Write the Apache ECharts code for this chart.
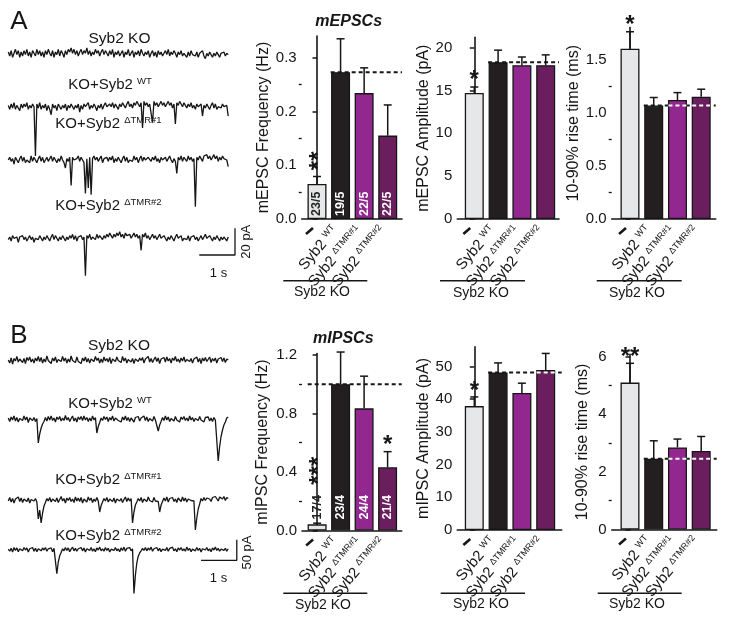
<!DOCTYPE html>
<html><head><meta charset="utf-8">
<script src="https://cdn.jsdelivr.net/npm/echarts@6/dist/echarts.min.js"></script>
<style>html,body{margin:0;padding:0;background:#fff}#c{width:729px;height:620px}</style>
</head><body><div id="c"></div>
<script>
// ================= DATA =================
const groupNames = ['Syb2 KO', 'Syb2 WT', 'Syb2 ΔTMR#1', 'Syb2 ΔTMR#2'];
const xLabelMain = ['—', 'Syb2', 'Syb2', 'Syb2'];
const xLabelSup = ['', 'WT', 'ΔTMR#1', 'ΔTMR#2'];
const bracketLabel = 'Syb2 KO';

// mEPSCs (A)
const mepscFreq = [0.065, 0.273, 0.234, 0.155];
const mepscFreqErr = [0.014, 0.062, 0.047, 0.057];
const mepscFreqRef = 0.273;
const mepscAmp = [14.7, 18.3, 17.95, 17.95];
const mepscAmpErr = [0.7, 1.4, 0.95, 1.2];
const mepscAmpRef = 18.3;
const mepscRise = [1.60, 1.067, 1.118, 1.15];
const mepscRiseErr = [0.16, 0.075, 0.07, 0.07];
const mepscRiseRef = 1.067;
const mepscN = ['23/5', '19/5', '22/5', '22/5'];
const mepscFreqStars = ['**', '', '', ''];
const mepscAmpStars = ['*', '', '', ''];
const mepscRiseStars = ['*', '', '', ''];

// mIPSCs (B)
const mipscFreq = [0.042, 1.0, 0.835, 0.432];
const mipscFreqErr = [0.008, 0.22, 0.22, 0.107];
const mipscFreqRef = 1.0;
const mipscAmp = [37.9, 48.2, 41.9, 48.95];
const mipscAmpErr = [2.8, 2.9, 3.0, 5.05];
const mipscAmpRef = 48.2;
const mipscRise = [5.10, 2.46, 2.85, 2.73];
const mipscRiseErr = [0.67, 0.62, 0.29, 0.50];
const mipscRiseRef = 2.46;
const mipscN = ['17/4', '23/4', '24/4', '21/4'];
const mipscFreqStars = ['***', '', '', '*'];
const mipscAmpStars = ['*', '', '', ''];
const mipscRiseStars = ['**', '', '', ''];

// axis ticks
const mepscFreqTicks = [0, 0.1, 0.2, 0.3], mepscFreqMinor = [0.05, 0.15, 0.25];
const mepscAmpTicks = [0, 5, 10, 15, 20], mepscAmpMinor = [];
const mepscRiseTicks = [0, 0.5, 1.0, 1.5], mepscRiseMinor = [0.25, 0.75, 1.25];
const mipscFreqTicks = [0, 0.4, 0.8, 1.2], mipscFreqMinor = [0.2, 0.6, 1.0];
const mipscAmpTicks = [0, 10, 20, 30, 40, 50], mipscAmpMinor = [];
const mipscRiseTicks = [0, 2, 4, 6], mipscRiseMinor = [1, 3, 5];

// example traces (pA), sampled every 0.04 s
const sampleDt = 0.04;
const traceLabelsMain = ['Syb2 KO', 'KO+Syb2', 'KO+Syb2', 'KO+Syb2'];
const traceLabelsSup = ['', 'WT', 'ΔTMR#1', 'ΔTMR#2'];
const trA1 = [1,-2,2,-3,0,3,-1,2,-3,1, -2,2,-1,3,-2,1,-3,2,0,-2, 3,-1,2,-2,1,-3,2,-1,3,0, -2,2,-3,1,-1,3,-2,2,0,-3,
  2,-1,3,1,4,0,3,-1,2,-2, 1,3,-1,2,0,4,-1,2,-2,1, -1,3,0,2,-2,1,3,-1,2,0, -2,2,-1,3,-3,1,-1,2,-2,0,
  2,-3,1,-1,3,-2,0,2,-3,1, -1,2,-2,3,0,-2,1,-1,2,-3, 0,2,-2,1,-3,2,-1,1,-2,0, 2,-1,3,-2,1,-1,2,0,-3,1,
  -1,2,-2,0,1,-3,1,-2,2,-1, 0,-2,1,-3,0,-1,2,-2,-4,0, -2,1,-1,-3,0,-2,1,-1,-3,0, -1,1,-2,0,-1];
const trA2 = [1,-2,2,-1,3,-2,1,0,-3,2, -1,2,0,3,-2,1,-1,2,0,-37, 2,-1,3,-2,1,-1,2,-3,1,-2, -6,2,-1,1,-3,2,0,-2,1,-1,
  2,-3,1,-1,2,0,-2,1,-1,2, -4,1,-2,2,0,-1,3,-2,1,-1, 2,0,-3,1,-1,2,-2,1,3,0, -1,2,0,3,-1,2,1,-2,2,0,
  3,1,-1,2,4,0,2,-1,3,1, 4,2,0,3,-16,4,1,3,0,2, 3,-12,4,1,3,0,2,4,1,3, 0,2,4,1,3,-1,2,-13,3,1,
  4,2,0,3,1,-1,2,0,3,-1, 1,-2,2,0,-1,2,-7,1,-1,2, 0,-2,1,3,-1,2,-2,0,1,-1, 2,0,-1,1,-7];
const trA3 = [0,2,-1,1,-3,2,0,-2,1,3, -1,2,-2,0,1,-2,3,-1,2,0, -2,1,3,-1,2,-2,0,2,-1,1, 3,-1,2,0,-2,1,-1,3,0,-2,
  -6,1,-1,2,-19,2,0,-1,1,3, -1,2,0,-2,-25,1,-21,2,-26,1, 3,0,2,-1,1,3,-2,1,0,2, -1,2,0,3,-2,1,-1,2,0,-2,
  1,3,-1,2,-2,0,1,-1,3,0, 2,-2,1,3,-1,2,0,-1,2,1, -1,2,0,3,-1,1,-2,2,0,-1, 2,-1,1,3,0,-2,1,-1,-10,2,
  0,3,-1,2,1,-1,3,0,2,-1, 1,-35,2,0,3,1,-1,3,2,4, 1,3,0,2,4,1,3,-1,2,0, 3,1,2,0,-5];
const trA4 = [-1,1,-2,2,0,-1,1,-3,1,0, 2,-1,1,-2,0,2,-1,1,-3,0, 1,-1,2,0,-2,1,-1,2,0,-2, 1,3,-1,2,0,-2,1,-1,2,0,
  -2,1,-1,2,0,3,-1,2,-2,1, 0,2,-1,1,-28,2,0,3,-1,1, 2,-1,3,0,2,1,-1,2,0,3, 1,4,2,0,3,1,4,2,5,1,
  3,0,4,2,1,3,0,2,4,1, 3,0,2,-9,3,1,4,0,2,-1, 1,3,0,2,-1,1,3,0,-1,2, 0,-2,1,-1,2,0,-2,1,3,0,
  -1,2,-2,0,1,-1,2,-2,1,0, 2,-1,1,-2,0,2,-1,1,3,0, -1,2,0,-2,1,-1,2,0,-2,1, -1,1,0,-2,1];
const trB1 = [0,-6,4,-8,3,-2,7,-4,2,6, -5,3,-7,5,-1,6,-4,2,-6,4, -2,7,-3,5,-6,2,-4,8,-1,3, -7,4,-2,6,-5,1,5,-3,7,-2,
  4,-6,2,-4,8,-1,3,-5,6,-3, 1,-7,4,-2,6,-4,3,-6,2,5, -3,7,-1,4,-6,2,-5,6,-2,3, -4,5,-7,2,4,-3,6,-1,3,-5,
  7,-2,4,-6,1,5,-4,3,-7,2, 6,-3,4,-1,5,-6,2,-2,7,-4, 3,-5,1,6,-3,4,-7,2,-1,5, -4,6,-2,3,-6,4,-1,7,-3,2,
  -5,4,-2,6,-4,1,5,-3,3,-6, 2,-1,6,-4,3,-7,4,-2,5,-3, 1,6,-5,3,-2,4,-6,2,-1,5, -3,4,-5,2,0];
const trB2 = [2,-5,4,-2,6,-4,3,-6,1,5, -3,6,-2,4,-7,2,5,-3,3,-5, 1,-48,-30,-18,-10,-5,3,-4,5,-2, 6,-3,2,-6,4,-1,5,-4,2,-3,
  7,-2,3,-5,1,6,-4,2,-6,4, -1,5,-3,6,-2,3,-5,2,-4,6, -2,3,-28,-15,-7,2,-3,5,-1,4, -5,3,-2,6,-4,2,5,-3,1,-6,
  4,-2,6,-3,3,-5,2,4,-6,3, -1,5,-4,2,-2,6,-3,4,-5,1, 3,-4,5,-2,2,-24,-12,-5,3,-3, 6,-2,4,-5,1,3,-4,5,-2,2,
  -6,4,-1,5,-3,2,-4,6,-2,3, -5,1,4,-3,5,-2,2,-6,3,-1, 4,-4,2,-5,3,-2,-6,-84,-55,-35, -22,-12,-6,2,4];
const trB3 = [-2,5,-4,3,-6,2,-1,6,-3,4, -5,2,6,-3,4,-6,1,5,-2,3, -4,-38,-20,-46,-26,-12,-5,3,-2,5, -4,2,6,-3,4,-5,1,7,-2,3,
  -6,4,-1,5,-3,2,-5,6,-2,4, -3,5,-6,2,3,-4,6,-1,4,-5, 2,-3,5,-2,-24,-11,-4,3,-2,5, -4,2,6,-3,4,-6,2,5,-2,3,
  -5,1,6,-3,4,-2,3,-46,-24,-10, -4,3,-2,5,-5,2,4,-3,6,-1, 3,-4,5,-2,2,-3,-24,-10,-3,4, -2,6,-4,3,-1,5,-3,2,-5,4,
  1,-3,6,-2,4,-4,2,5,-1,3, -2,-60,-36,-18,-8,3,-2,5,-1,4, 6,2,-3,5,1,7,3,-2,6,9, 2,7,-1,5,3];
const trB4 = [1,-4,3,-6,5,-2,4,-5,2,6, -3,5,-1,4,-6,2,-2,5,-4,3, -5,2,6,-3,4,-1,5,-4,2,-2, 4,-5,3,-1,-58,-30,-15,-7,2,-3,
  5,-2,4,-5,1,6,-3,3,-4,2, -1,5,-3,4,-6,2,3,-2,5,-4, 2,-5,4,-1,6,-3,2,-4,5,-2, 3,-6,1,4,-2,5,-3,2,-5,4,
  -2,6,-4,3,-1,5,-3,2,-106,-62, -32,-16,-8,-3,3,-2,5,-3,4,-1, 6,-4,2,-2,5,-3,3,-5,1,4, -2,5,-4,3,-1,6,-3,2,-5,4,
  -1,5,-3,2,-4,6,-2,3,-5,1, 4,-3,5,-2,3,-6,2,4,-1,5, -3,2,-5,4,-1,6,-2,3,-4,1, 5,-2,3,-4,2];
const scaleBarA = {pA: 20, s: 1, label: '20 pA', tLabel: '1 s'};
const scaleBarB = {pA: 50, s: 1, label: '50 pA', tLabel: '1 s'};

// ================= STYLE / LAYOUT =================
const FONT = '"Liberation Sans", Arial, Helvetica, sans-serif';
const INK = '#161616';
const barColors = ['#e6e7e8', '#231f20', '#92278f', '#6b1e5e'];
const countColors = ['#222222', '#ffffff', '#ffffff', '#ffffff'];

const panels = [
  {val: mepscFreq, err: mepscFreqErr, ref: mepscFreqRef, n: mepscN, stars: mepscFreqStars, ticks: mepscFreqTicks, minor: mepscFreqMinor, dec: 1,
   name: 'mEPSC Frequency (Hz)', grid: {left: 301.7, top: 36.1, width: 100.3, height: 182.9}, xMin: -0.649, xMax: 3.606, yMax: 0.34,
   nameGap: 30, refStart: 0.58, nDist: 3, starLift: [15.7, 0, 0, 0], starRot: [90, 0, 0, 0], bracket: {x1: 283.3, x2: 367.3, y: 280.7, tx: 322, ty: 292}},
  {val: mepscAmp, err: mepscAmpErr, ref: mepscAmpRef, n: null, stars: mepscAmpStars, ticks: mepscAmpTicks, minor: mepscAmpMinor, dec: 0,
   name: 'mEPSC Amplitude (pA)', grid: {left: 457.3, top: 37.3, width: 101.7, height: 181.7}, xMin: -0.714, xMax: 3.559, yMax: 21.2,
   nameGap: 24, refStart: 0.58, nDist: 3, starLift: [9.5, 0, 0, 0], starRot: [0, 0, 0, 0], bracket: {x1: 440, x2: 525, y: 280.7, tx: 481, ty: 292.7}},
  {val: mepscRise, err: mepscRiseErr, ref: mepscRiseRef, n: null, stars: mepscRiseStars, ticks: mepscRiseTicks, minor: mepscRiseMinor, dec: 1,
   name: '10-90% rise time (ms)', grid: {left: 611.7, top: 27.5, width: 104, height: 191.5}, xMin: -0.771, xMax: 3.611, yMax: 1.8,
   nameGap: 30, refStart: 0.58, nDist: 3, starLift: [8.7, 0, 0, 0], starRot: [0, 0, 0, 0], bracket: {x1: 596.7, x2: 681.7, y: 280.7, tx: 637, ty: 292.7}},
  {val: mipscFreq, err: mipscFreqErr, ref: mipscFreqRef, n: mipscN, stars: mipscFreqStars, ticks: mipscFreqTicks, minor: mipscFreqMinor, dec: 1,
   name: 'mIPSC Frequency (Hz)', grid: {left: 302, top: 353.5, width: 99.7, height: 177}, xMin: -0.643, xMax: 3.6, yMax: 1.21,
   nameGap: 31, refStart: -0.4, nDist: 11, starLift: [52.5, 0, 0, 8.4], starRot: [90, 0, 0, 0], bracket: {x1: 283.3, x2: 367.3, y: 593.3, tx: 323, ty: 605}},
  {val: mipscAmp, err: mipscAmpErr, ref: mipscAmpRef, n: null, stars: mipscAmpStars, ticks: mipscAmpTicks, minor: mipscAmpMinor, dec: 0,
   name: 'mIPSC Amplitude (pA)', grid: {left: 457.3, top: 346.9, width: 104.4, height: 183.1}, xMin: -0.714, xMax: 3.672, yMax: 56,
   nameGap: 24, refStart: 0.58, nDist: 3, starLift: [7.5, 0, 0, 0], starRot: [0, 0, 0, 0], bracket: {x1: 440.7, x2: 525, y: 593.3, tx: 481, ty: 604}},
  {val: mipscRise, err: mipscRiseErr, ref: mipscRiseRef, n: null, stars: mipscRiseStars, ticks: mipscRiseTicks, minor: mipscRiseMinor, dec: 0,
   name: '10-90% rise time (ms)', grid: {left: 611.7, top: 354.4, width: 105, height: 175.1}, xMin: -0.771, xMax: 3.653, yMax: 6.08,
   nameGap: 21, refStart: 0.58, nDist: 3, starLift: [8.3, 0, 0, 0], starRot: [0, 0, 0, 0], bracket: {x1: 597.7, x2: 681.7, y: 593.3, tx: 637, ty: 604}}
];

const traceSets = [
  {traces: [trA1, trA2, trA3, trA4], baselines: [53.3, 106.7, 160, 238.3], k: 1.335, up: 14, down: 60,
   labelPos: [[119.5, 39], [110, 84.5], [108.5, 124], [108.5, 206]], bar: scaleBarA, barCorner: [6.35, -12.5],
   barLabelPos: [246.7, 241.7], tLabelPos: [218.5, 273], letter: 'A', letterPos: [19, 22], title: 'mEPSCs', titlePos: [348.7, 21.7]},
  {traces: [trB1, trB2, trB3, trB4], baselines: [360, 419, 500, 552], k: 0.5, up: 14, down: 85,
   labelPos: [[119, 346], [110, 404], [108.5, 480], [108.5, 536]], bar: scaleBarB, barCorner: [6.40, -26],
   barLabelPos: [247.3, 552.5], tLabelPos: [218.5, 578], letter: 'B', letterPos: [19, 336], title: 'mIPSCs', titlePos: [343.3, 338.3]}
];
const TRACE_LEFT = 8.3, PX_PER_S = 35.7, T_MAX = 6.5;

// ================= BUILD =================
const grids = [], xAxes = [], yAxes = [], series = [];
const panelAxis = [];

panels.forEach((p, pi) => {
  const gi = grids.length;
  grids.push(Object.assign({containLabel: false}, p.grid));
  const xi = xAxes.length;
  xAxes.push({type: 'value', gridIndex: gi, min: p.xMin, max: p.xMax,
    axisLine: {show: true, onZero: false, lineStyle: {color: INK, width: 1.6}},
    axisTick: {show: false}, axisLabel: {show: false}, splitLine: {show: false}});
  const yi = yAxes.length;
  yAxes.push({type: 'value', gridIndex: gi, min: 0, max: p.yMax,
    name: p.name, nameLocation: 'middle', nameGap: p.nameGap,
    nameTextStyle: {fontFamily: FONT, fontSize: 16, color: INK},
    axisLine: {show: true, lineStyle: {color: INK, width: 1.6}},
    axisTick: {show: true, length: 4.5, customValues: p.ticks, lineStyle: {color: INK, width: 1.5}},
    axisLabel: {show: true, customValues: p.ticks, fontFamily: FONT, fontSize: 15, color: INK, margin: 5,
      formatter: v => Number(v).toFixed(p.dec)},
    splitLine: {show: false}});
  yAxes.push({type: 'value', gridIndex: gi, min: 0, max: p.yMax, position: 'left',
    axisLine: {show: false}, axisLabel: {show: false}, splitLine: {show: false},
    axisTick: {show: p.minor.length > 0, length: 3, customValues: p.minor, lineStyle: {color: INK, width: 1.3}}});
  panelAxis.push(gi);

  series.push({type: 'line', xAxisIndex: xi, yAxisIndex: yi, data: [[p.refStart, p.ref], [p.xMax, p.ref]],
    symbol: 'none', silent: true, z: 1, clip: false,
    lineStyle: {color: INK, width: 2, type: [4, 3]}});
  series.push({type: 'bar', xAxisIndex: xi, yAxisIndex: yi, barWidth: 19, z: 2, silent: true,
    data: p.val.map((v, i) => ({value: [i, v], itemStyle: {color: barColors[i]}, label: {color: countColors[i]}})),
    itemStyle: {borderColor: INK, borderWidth: 1.3},
    label: {show: !!p.n, position: 'insideBottom', distance: p.nDist, rotate: 90, align: 'left', verticalAlign: 'middle',
      fontFamily: FONT, fontWeight: 'bold', fontSize: 12.5, formatter: prm => p.n ? p.n[prm.dataIndex] : ''}});
  p.val.forEach((v, i) => {
    if (i > 0 && v > p.ref + 0.01 * p.yMax) {
      series.push({type: 'line', xAxisIndex: xi, yAxisIndex: yi, data: [[i - 0.38, p.ref], [i + 0.38, p.ref]],
        symbol: 'none', silent: true, z: 3, lineStyle: {color: '#ffffff', width: 2, type: [4, 3]}});
    }
  });
  series.push({type: 'custom', xAxisIndex: xi, yAxisIndex: yi, z: 4, silent: true, clip: false,
    data: p.val.map((v, i) => [i, v, v + p.err[i]]),
    encode: {x: 0, y: [1, 2]},
    renderItem: (params, api) => {
      const b = api.coord([api.value(0), api.value(1)]);
      const t = api.coord([api.value(0), api.value(2)]);
      return {type: 'group', children: [
        {type: 'line', shape: {x1: b[0], y1: b[1], x2: t[0], y2: t[1]}, style: {stroke: INK, lineWidth: 1.5}},
        {type: 'line', shape: {x1: t[0] - 4, y1: t[1], x2: t[0] + 4, y2: t[1]}, style: {stroke: INK, lineWidth: 1.5}}
      ]};
    }});
});

traceSets.forEach((ts, si) => {
  ts.traces.forEach((tr, ti) => {
    const gi = grids.length;
    const base = ts.baselines[ti];
    grids.push({left: TRACE_LEFT, width: T_MAX * PX_PER_S, top: base - ts.up, height: ts.up + ts.down, containLabel: false});
    const xi = xAxes.length, yi = yAxes.length;
    xAxes.push({type: 'value', gridIndex: gi, min: 0, max: T_MAX, show: false});
    yAxes.push({type: 'value', gridIndex: gi, min: -ts.down / ts.k, max: ts.up / ts.k, show: false});
    series.push({type: 'line', xAxisIndex: xi, yAxisIndex: yi, symbol: 'none', silent: true, clip: false,
      data: tr.map((v, i) => [i * sampleDt, v]),
      lineStyle: {color: INK, width: 1.3}});
    if (ti === 3) {
      const c = ts.barCorner, b = ts.bar;
      series.push({type: 'line', xAxisIndex: xi, yAxisIndex: yi, symbol: 'none', silent: true, clip: false,
        data: [[c[0] - b.s, c[1]], [c[0], c[1]], [c[0], c[1] + b.pA]],
        lineStyle: {color: INK, width: 1.3}});
    }
  });
});

const chart = echarts.init(document.getElementById('c'), null, {renderer: 'canvas', width: 729, height: 620});
chart.setOption({
  animation: false,
  backgroundColor: '#ffffff',
  textStyle: {fontFamily: FONT},
  grid: grids, xAxis: xAxes, yAxis: yAxes, series: series
});

// ================= ANNOTATIONS =================
const g = [];
const font = (size, w, s) => `${s || 'normal'} ${w || 'normal'} ${size}px ${FONT}`;
function text(x, y, str, size, opts) {
  opts = opts || {};
  g.push({type: 'text', x: x, y: y, rotation: (opts.rot || 0) * Math.PI / 180, silent: true, z: 10,
    style: Object.assign({text: str, fill: INK, font: font(size, opts.weight, opts.style),
      align: opts.align || 'center', verticalAlign: opts.valign || 'middle'}, opts.extra || {})});
}
function line(x1, y1, x2, y2, w) {
  g.push({type: 'line', silent: true, z: 10, shape: {x1, y1, x2, y2}, style: {stroke: INK, lineWidth: w || 1.5}});
}

panels.forEach((p, pi) => {
  const gi = panelAxis[pi];
  p.val.forEach((v, i) => {
    const pt = chart.convertToPixel({gridIndex: gi}, [i, 0]);
    if (i === 0) {
      g.push({type: 'line', silent: true, z: 10, x: pt[0] - 7.5, y: pt[1] + 12, rotation: 40 * Math.PI / 180,
        shape: {x1: -4.5, y1: 0, x2: 4.5, y2: 0}, style: {stroke: INK, lineWidth: 2.6}});
    } else {
      g.push({type: 'text', silent: true, z: 10, x: pt[0] - 5, y: pt[1] + 9, rotation: 50 * Math.PI / 180,
        style: {text: '{m|' + xLabelMain[i] + '} {s|' + xLabelSup[i] + '}', align: 'right', verticalAlign: 'middle',
          fill: INK, font: font(15),
          rich: {m: {fontSize: 15, fontFamily: FONT, fill: INK, lineHeight: 16},
                 s: {fontSize: 9, fontFamily: FONT, fill: INK, lineHeight: 16, verticalAlign: 'top'}}}});
    }
    if (p.stars[i]) {
      const top = chart.convertToPixel({gridIndex: gi}, [i, v + p.err[i]]);
      const size = 24, shift = 0.1 * size;
      if (p.starRot[i] === 90) {
        text(top[0] + shift, top[1] - p.starLift[i], p.stars[i], size, {rot: 90, weight: 'bold'});
      } else {
        text(top[0], top[1] - p.starLift[i] + shift, p.stars[i], size, {weight: 'bold'});
      }
    }
  });
  const br = p.bracket;
  line(br.x1, br.y, br.x2, br.y, 1.5);
  text(br.tx, br.ty, bracketLabel, 14);
});

traceSets.forEach(ts => {
  text(ts.letterPos[0], ts.letterPos[1], ts.letter, 26);
  text(ts.titlePos[0], ts.titlePos[1], ts.title, 16, {weight: 'bold', style: 'italic'});
  ts.labelPos.forEach((pos, i) => {
    if (!traceLabelsSup[i]) {
      text(pos[0], pos[1], traceLabelsMain[i], 15.5);
    } else {
      g.push({type: 'text', silent: true, z: 10, x: pos[0], y: pos[1],
        style: {text: '{m|' + traceLabelsMain[i] + '} {s|' + traceLabelsSup[i] + '}', align: 'center', verticalAlign: 'middle',
          fill: INK, font: font(15),
          rich: {m: {fontSize: 15, fontFamily: FONT, fill: INK, lineHeight: 17},
                 s: {fontSize: 9.5, fontFamily: FONT, fill: INK, lineHeight: 17, verticalAlign: 'top'}}}});
    }
  });
  text(ts.barLabelPos[0], ts.barLabelPos[1], ts.bar.label, 13, {rot: 90});
  text(ts.tLabelPos[0], ts.tLabelPos[1], ts.bar.tLabel, 13);
});

chart.setOption({graphic: {elements: g}});
</script>
</body></html>
